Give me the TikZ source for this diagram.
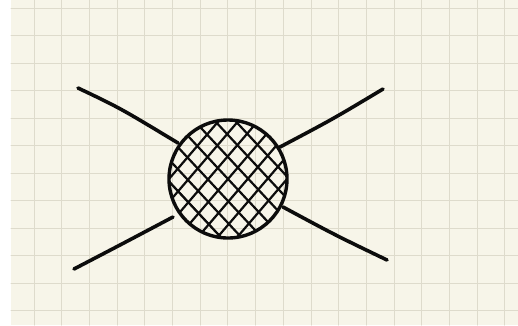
\documentclass[tikz,border=0pt]{standalone}
\definecolor{paper}{RGB}{247,245,233}
\definecolor{gridc}{RGB}{222,219,204}
\definecolor{ink}{RGB}{12,12,12}
\begin{document}
\begin{tikzpicture}[x=1pt,y=-1pt,line cap=round,line join=round,
  gridline/.style={draw=gridc,line width=1pt},
  stroke/.style={draw=ink,line width=3.6pt},
  hatchline/.style={draw=ink,line width=2.2pt},
  ball/.style={circle,draw=ink,line width=3.4pt,minimum size=118pt,inner sep=0pt}]
\useasboundingbox (0,0) rectangle (518,325);
\fill[white] (0,0) rectangle (518,325);
\fill[paper] (11,0) rectangle (518,325);
\foreach \k in {0,...,17} \draw[gridline] ({34+27.7*\k},0) -- ({34+27.7*\k},325);
\foreach \k in {0,...,11} \draw[gridline] (11,{8.4+27.5*\k}) -- (518,{8.4+27.5*\k});
% hatching
\begin{scope}
  \clip (228,179) circle[radius=58];
  \foreach \i in {-6,...,6} {
    \draw[hatchline] ({228+10.6*\i-80},{179-10.6*\i-86}) -- ({228+10.6*\i+80},{179-10.6*\i+86});
    \draw[hatchline] ({228+10.6*\i-72},{179+10.6*\i+84}) -- ({228+10.6*\i+72},{179+10.6*\i-84});
  }
  \foreach \i in {-5,...,-3} {
    \draw[hatchline,line width=1.6pt] ({228+10.6*\i-80+5},{179-10.6*\i-86+5}) -- ({228+10.6*\i+80+5},{179-10.6*\i+86+5});
  }
\end{scope}
\node[ball] (b) at (228,179) {};
% connectors
\coordinate (ula) at (78,88);   \coordinate (ulb) at (178,143);
\coordinate (ura) at (383,89);  \coordinate (urb) at (280,147);
\coordinate (lla) at (74,269);  \coordinate (llb) at (173,217);
\coordinate (lra) at (387,260); \coordinate (lrb) at (283,207);
\draw[stroke] (ula) .. controls (120,108) .. (ulb);
\draw[stroke] (ura) .. controls (333,119) .. (urb);
\draw[stroke] (lla) .. controls (122,244) .. (llb);
\draw[stroke] (lra) .. controls (335,235) .. (lrb);
\end{tikzpicture}
\end{document}
